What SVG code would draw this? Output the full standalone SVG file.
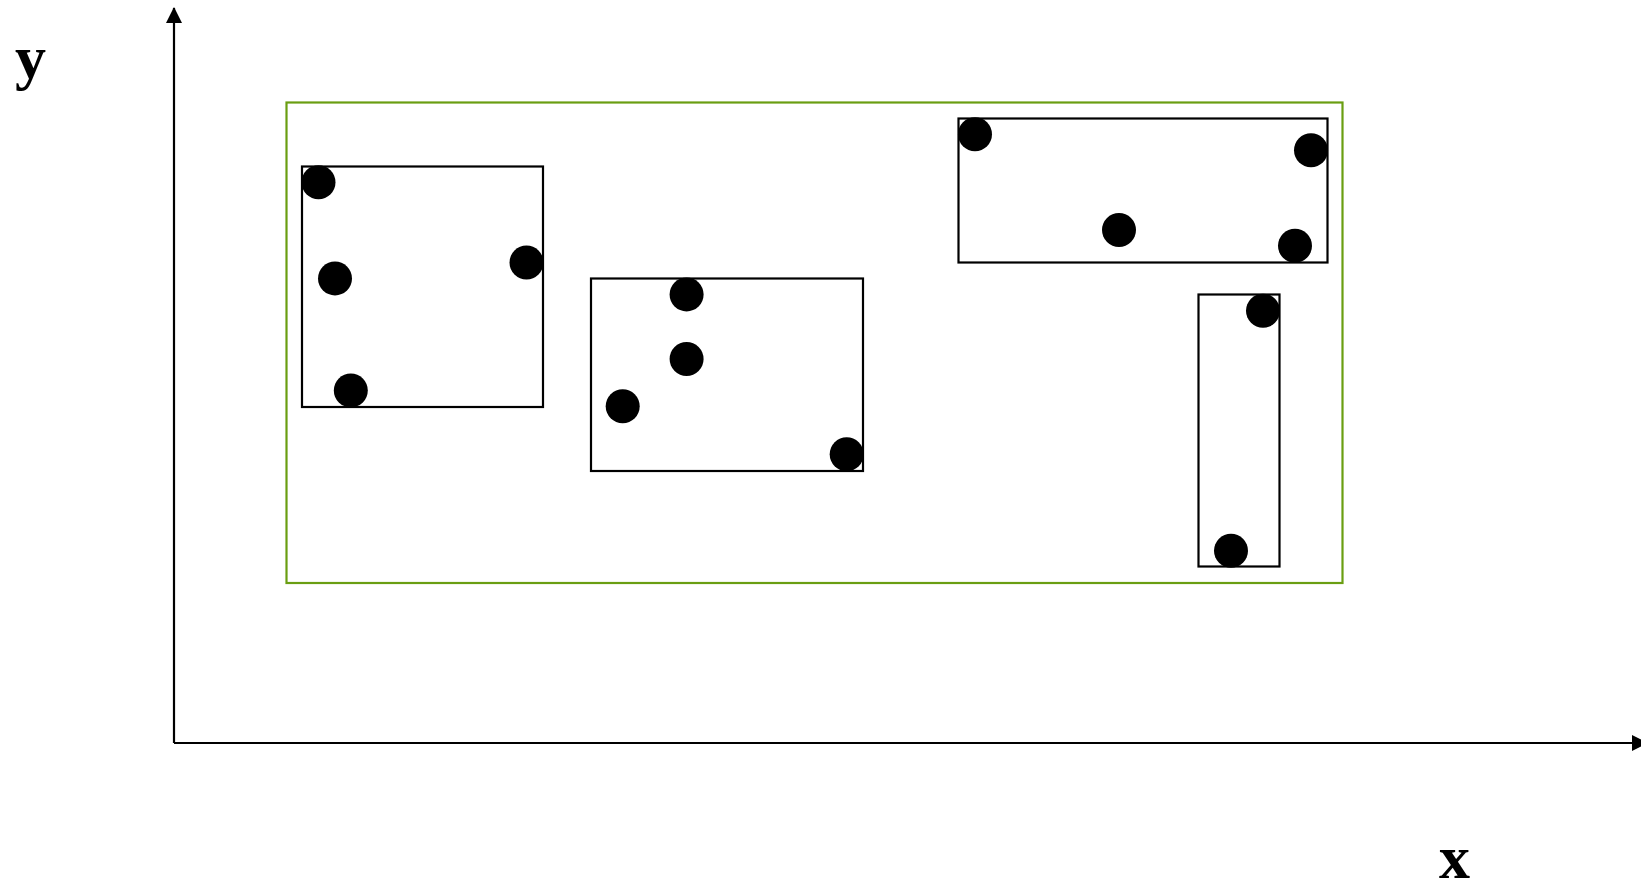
<svg xmlns="http://www.w3.org/2000/svg" width="1641" height="882" viewBox="0 0 1641 882">
<style>
.box{fill:none;stroke:#000;stroke-width:2.2}
.outer{fill:none;stroke:#6a9e12;stroke-width:2.2}
.dot{fill:#000}
.axis{stroke:#000;stroke-width:2.2;fill:none}
.lbl{font-family:"Liberation Serif",serif;font-weight:bold;font-size:62px;fill:#000}
</style>
<defs>
<marker id="arr" viewBox="0 0 16 16" refX="15" refY="8" markerWidth="16" markerHeight="16" markerUnits="userSpaceOnUse" orient="auto">
<path d="M0,0 L16,8 L0,16 Z" fill="#000"/>
</marker>
</defs>
<g id="connectors">
<line class="axis" x1="174" y1="743" x2="174" y2="8" marker-end="url(#arr)"/>
<line class="axis" x1="174" y1="743" x2="1647" y2="743" marker-end="url(#arr)"/>
</g>
<g id="outer-box"><rect class="outer" x="286.5" y="102.5" width="1056" height="480.5"/></g>
<g id="cluster1">
<rect class="box" x="302" y="166.5" width="241" height="240.5"/>
<circle class="dot" cx="318.5" cy="182.2" r="17"/>
<circle class="dot" cx="335" cy="278.4" r="17"/>
<circle class="dot" cx="526.5" cy="262.5" r="17"/>
<circle class="dot" cx="350.8" cy="390.4" r="17"/>
</g>
<g id="cluster2">
<rect class="box" x="591" y="278.5" width="272" height="192.5"/>
<circle class="dot" cx="686.6" cy="294.4" r="17"/>
<circle class="dot" cx="686.6" cy="359" r="17"/>
<circle class="dot" cx="622.7" cy="406.3" r="17"/>
<circle class="dot" cx="846.7" cy="454.3" r="17"/>
</g>
<g id="cluster3">
<rect class="box" x="958.5" y="118.5" width="369" height="144"/>
<circle class="dot" cx="975" cy="134.3" r="17"/>
<circle class="dot" cx="1311" cy="150.3" r="17"/>
<circle class="dot" cx="1119" cy="230" r="17"/>
<circle class="dot" cx="1295" cy="245.7" r="17"/>
</g>
<g id="cluster4">
<rect class="box" x="1198.5" y="294.5" width="81" height="272"/>
<circle class="dot" cx="1263" cy="310.7" r="17"/>
<circle class="dot" cx="1231" cy="550.7" r="17"/>
</g>
<g id="label-y"><text class="lbl" x="15" y="78">y</text></g>
<g id="label-x"><text class="lbl" x="1439" y="878">x</text></g>
</svg>
